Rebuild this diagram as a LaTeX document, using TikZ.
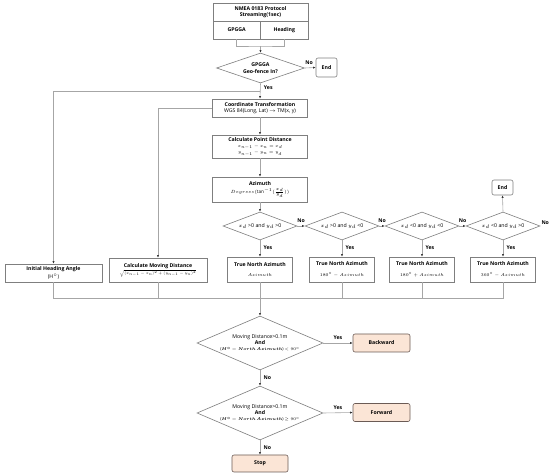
\documentclass[tikz,border=0pt]{standalone}
\usepackage{fontspec}
\setmainfont{Open Sans}
\usepackage{amsmath,bm,graphicx}
\usetikzlibrary{arrows.meta,shapes.geometric}

\definecolor{linegray}{HTML}{A6A6A6}
\definecolor{boxgray}{HTML}{7F7F7F}
\definecolor{peach}{HTML}{FBE5D6}
\definecolor{termedge}{HTML}{6B5B55}

% smaller math inside the boxes
\newcommand{\smallmath}[2][0.85]{\scalebox{#1}{#2}}

\begin{document}
\begin{tikzpicture}[
  x=1pt, y=-1pt,
  every node/.style={font=\fontsize{5.2}{6.4}\selectfont},
  box/.style={draw=boxgray, line width=0.6pt, fill=white, align=center, inner sep=1pt},
  choice/.style={diamond, draw=boxgray, line width=0.6pt, fill=white, align=center, inner sep=0pt, aspect=2.6},
  term/.style={draw=termedge, fill=peach, rounded corners=2pt, line width=0.6pt, font=\fontsize{5.2}{6.4}\selectfont\bfseries},
  endbox/.style={draw=boxgray, fill=white, rounded corners=2pt, line width=0.6pt, font=\fontsize{5.2}{6.4}\selectfont\bfseries},
  link/.style={draw=linegray, line width=0.6pt},
  flow/.style={link, -{Latex[length=2.6pt,width=2.2pt,color=black!80]}},
  lbl/.style={font=\fontsize{5.2}{6.4}\selectfont\bfseries},
]
\useasboundingbox (0,0) rectangle (550,476);

% Input stream
\node[box, minimum width=95pt, minimum height=18pt] (nmea) at (260.5,12)
  {\textbf{NMEA 0183 Protocol}\\\textbf{Streaming(1sec)}};
\node[box, minimum width=47.5pt, minimum height=18pt, font=\fontsize{5.2}{6.4}\selectfont\bfseries] (gpgga) at (236.75,30) {GPGGA};
\node[box, minimum width=47.5pt, minimum height=18pt, font=\fontsize{5.2}{6.4}\selectfont\bfseries] (heading) at (284.25,30) {Heading};
\coordinate (join) at (260.5,46);
\draw[link] (gpgga.south) |- (join) -| (heading.south);

% Geo-fence check
\node[choice, minimum width=88pt, minimum height=30pt, font=\fontsize{5.2}{6.4}\selectfont\bfseries] (geo) at (260.5,68)
  {GPGGA\\Geo-fence In?};
\node[endbox, minimum width=21pt, minimum height=19pt] (end1) at (326.5,67.5) {End};
\draw[flow] (join) -- (geo.north);
\draw[flow] (geo.east) -- node[lbl, above, pos=0.4] (nogeo) {No} (end1.west);

% Main column
\node[box, minimum width=95pt, minimum height=18pt] (coord) at (260,108)
  {\textbf{Coordinate Transformation}\\WGS 84(Long, Lat) $\rightarrow$ TM(x, y)};
\node[box, minimum width=95pt, minimum height=23pt] (dist) at (260,146.5)
  {\textbf{Calculate Point Distance}\\\smallmath{$x_{n-1} - x_n = x_d$}\\\smallmath{$y_{n-1} - y_n = y_d$}};
\node[box, minimum width=95pt, minimum height=25pt] (azim) at (260,189.5)
  {\textbf{Azimuth}\\[1pt]\smallmath[0.9]{$Degrees(\tan^{-1}(\tfrac{x_d}{y_d}))$}};
\coordinate (yesj) at (260,91);
\draw[flow] (geo.south) -- node[lbl, right, pos=0.3] (yesgeo) {Yes} (coord.north);
\draw[flow] (coord) -- (dist);
\draw[flow] (dist) -- (azim);

% Side branches
\node[box, minimum width=97pt, minimum height=18pt] (init) at (53.5,273)
  {\textbf{Initial Heading Angle}\\[1pt](H$^\circ$)};
\node[box, minimum width=98pt, minimum height=24pt] (move) at (158,270)
  {\textbf{Calculate Moving Distance}\\[1pt]\smallmath[0.74]{$\sqrt{(x_{n-1}-x_n)^2 + (y_{n-1}-y_n)^2}$}};
\draw[flow] (yesj) -| (init.north);
\draw[flow] (coord.west) -| (move.north);

% Quadrant tests and true north azimuth
\foreach \i/\xc/\cond/\val in {
  1/260/{$x_d$ >0 and $y_d$ >0}/{$Azimuth$},
  2/342/{$x_d$ >0 and $y_d$ <0}/{$180^\circ - Azimuth$},
  3/422/{$x_d$ <0 and $y_d$ <0}/{$180^\circ + Azimuth$},
  4/503/{$x_d$ <0 and $y_d$ >0}/{$360^\circ - Azimuth$}%
} {
  \node[choice, minimum width=74pt, minimum height=28pt] (d\i) at (\xc,226) {\cond};
  \node[box, minimum width=65pt, minimum height=25pt] (tn\i) at (\xc,269.5)
    {\textbf{True North Azimuth}\\[4pt]\smallmath{\val}};
  \draw[flow] (d\i.south) -- node[lbl, right, pos=0.45] (yes\i) {Yes} (tn\i.north);
}
\foreach \a/\b in {1/2,2/3,3/4} {
  \draw[flow] (d\a.east) -- node[lbl, above] (no\a) {No} (d\b.west);
}
\node[lbl, above right, inner sep=1pt] (no4) at (d4.east) {No};
\node[endbox, minimum width=21pt, minimum height=15pt] (end2) at (502.5,187.5) {End};
\draw[flow] (azim) -- (d1);
\draw[flow] (d4.north) -- (end2.south);

% Merge
\coordinate (merge) at (260,298);
\draw[link] (init.south) |- (merge);
\draw[link] (move.south) |- (merge);
\foreach \i in {2,3,4} {
  \draw[link] (tn\i.south) |- (merge);
}

% Direction decisions
\node[choice, minimum width=126pt, minimum height=54pt, aspect=2.3] (mv1) at (260,343)
  {Moving Distance>0.1m\\\textbf{And}\\\smallmath[0.8]{($\bm{H^\circ - North\ Azimuth}$) $<90^\circ$}};
\node[choice, minimum width=126pt, minimum height=54pt, aspect=2.3] (mv2) at (260,413)
  {Moving Distance>0.1m\\\textbf{And}\\\smallmath[0.8]{($\bm{H^\circ - North\ Azimuth}$) $\geq 90^\circ$}};
\node[term, minimum width=57pt, minimum height=18pt] (back) at (381.5,343) {Backward};
\node[term, minimum width=57pt, minimum height=18pt] (fwd) at (381.5,412.5) {Forward};
\node[term, minimum width=56pt, minimum height=17pt] (stop) at (260,463.5) {Stop};
\draw[flow] (tn1.south) -- (mv1.north);
\draw[flow] (mv1.east) -- node[lbl, above] (yesb) {Yes} (back.west);
\draw[flow] (mv1.south) -- node[lbl, right] (nob) {No} (mv2.north);
\draw[flow] (mv2.east) -- node[lbl, above] (yesf) {Yes} (fwd.west);
\draw[flow] (mv2.south) -- node[lbl, right] (nof) {No} (stop.north);

\end{tikzpicture}
\end{document}
